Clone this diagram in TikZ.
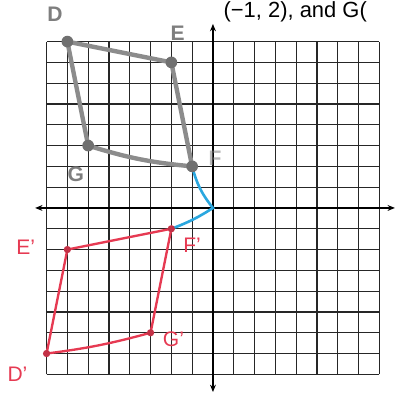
\documentclass[tikz,border=0pt]{standalone}
\usepackage{fontspec}
\setsansfont{Liberation Sans}
\usepackage{xcolor}
\usepackage{tikz}
\usetikzlibrary{arrows.meta}
\definecolor{pencilgray}{HTML}{8C8C8C}
\definecolor{markerred}{HTML}{E63A52}
\definecolor{markerblue}{HTML}{2AA7DF}
\tikzset{
  gridline/.style={black!85,line width=0.8pt},
  axis/.style={{Stealth[length=5pt,width=4pt]}-{Stealth[length=5pt,width=4pt]},line width=1.1pt},
  preimage/.style={pencilgray,line width=3pt,line cap=round,line join=round},
  imageside/.style={markerred,line width=1.6pt,line cap=round,line join=round},
  turn/.style={markerblue,line width=1.8pt,line cap=round},
  graypoint/.style={circle,fill=pencilgray!80!black,inner sep=0pt,minimum size=8pt},
  redpoint/.style={circle,fill=markerred!85!black,inner sep=0pt,minimum size=5pt},
  graylabel/.style={pencilgray!90!black,font=\sffamily\bfseries\Large},
  redlabel/.style={markerred,font=\sffamily\Large}
}

\begin{document}
\begin{tikzpicture}[x=0.5cm,y=0.5cm]
  \useasboundingbox (-10.24,-9.09) rectangle (8.80,10.0);
  \clip (-10.24,-9.09) rectangle (8.80,10.0);
  \node[anchor=base west,inner sep=0pt,font=\sffamily\fontsize{15}{18}\selectfont] (given) at (0.5,9.15) {(−1, 2), and G(};
  \draw[gridline,step=0.5cm] (-8,-8) grid (8,8);
  \draw[axis] (-8.55,0) -- (8.75,0);
  \draw[axis] (0,-8.85) -- (0,8.85);
  \coordinate (O) at (0,0);
  \coordinate (D) at (-7,8);
  \coordinate (E) at (-2,7);
  \coordinate (F) at (-1,2);
  \coordinate (G) at (-6,3);
  \coordinate (Dp) at (-8,-7);
  \coordinate (Ep) at (-7,-2);
  \coordinate (Fp) at (-2,-1);
  \coordinate (Gp) at (-3,-6);
  \draw[preimage] (D) -- (E) -- (F) to[bend left=6] (G) -- cycle;
  \draw[imageside] (Dp) -- (Ep) -- (Fp) -- (Gp) to[bend left=4] (Dp);
  \draw[turn] (F) to[bend right=12] (O) to[bend left=6] (Fp);
  \foreach \p in {D,E,F,G} \node[graypoint] (dot\p) at (\p) {};
  \foreach \p in {Dp,Ep,Fp,Gp} \node[redpoint] (dot\p) at (\p) {};
  \node[graylabel] (lD) at (-7.6,9.3) {D};
  \node[graylabel] (lE) at (-1.7,8.4) {E};
  \node[graylabel,opacity=0.55] (lF) at (0.1,2.4) {F};
  \node[graylabel] (lG) at (-6.6,1.6) {G};
  \node[redlabel] (lEp) at (-9.0,-1.9) {E'};
  \node[redlabel] (lFp) at (-1.0,-1.8) {F'};
  \node[redlabel] (lGp) at (-1.9,-6.3) {G'};
  \node[redlabel] (lDp) at (-9.4,-8.0) {D'};
\end{tikzpicture}
\end{document}
